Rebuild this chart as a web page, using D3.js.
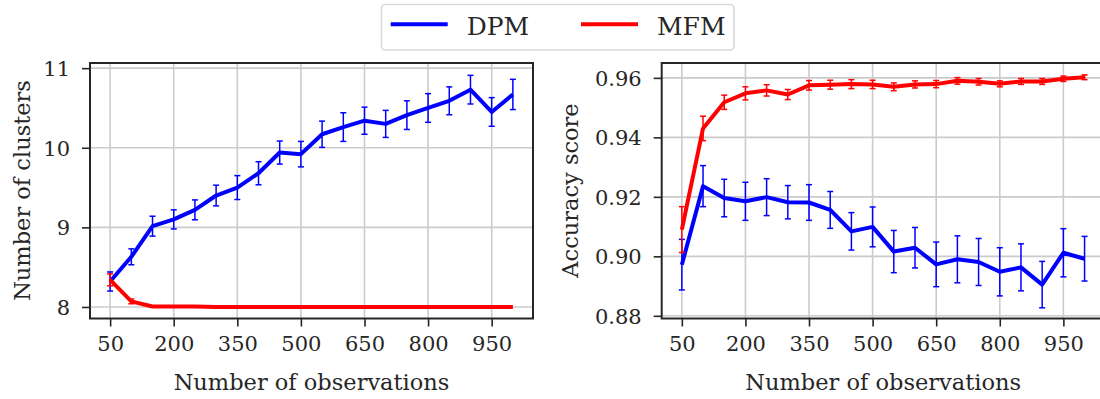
<!DOCTYPE html>
<html>
<head>
<meta charset="utf-8">
<script src="https://cdn.jsdelivr.net/npm/d3@7"></script>
<style>
  body { margin: 0; background: #fff; }
  svg text { font-family: "DejaVu Serif", serif; fill: #262626; }
</style>
</head>
<body>
<div id="plot"></div>
<script>
// chart size
const width = 1100;
const height = 399;

// number of observations (x categories)
const nObs = [50, 100, 150, 200, 250, 300, 350, 400, 450, 500,
              550, 600, 650, 700, 750, 800, 850, 900, 950, 1000];
const xTicks = [50, 200, 350, 500, 650, 800, 950];

// left panel: number of clusters
const dpmClusters = [8.32, 8.63, 9.015, 9.10, 9.22, 9.40, 9.50, 9.68, 9.94, 9.92,
                     10.17, 10.26, 10.34, 10.30, 10.41, 10.50, 10.59, 10.73, 10.45, 10.67];
const dpmClustersErr = [0.12, 0.10, 0.125, 0.12, 0.125, 0.13, 0.15, 0.145, 0.145, 0.16,
                        0.165, 0.18, 0.17, 0.17, 0.18, 0.18, 0.175, 0.18, 0.18, 0.19];
const mfmClusters = [8.34, 8.07, 8.005, 8.005, 8.005, 8.0, 8.0, 8.0, 8.0, 8.0,
                     8.0, 8.0, 8.0, 8.0, 8.0, 8.0, 8.0, 8.0, 8.0, 8.0];
const mfmClustersErr = [0.075, 0.03, 0.005, 0, 0, 0, 0, 0, 0, 0,
                        0, 0, 0, 0, 0, 0, 0, 0, 0, 0];
const clusterTicks = [8, 9, 10, 11];

// right panel: accuracy score
const dpmAcc = [0.8972, 0.9236, 0.9196, 0.9185, 0.9199, 0.9182, 0.9181, 0.9156, 0.9084, 0.9099,
                0.9016, 0.9029, 0.8973, 0.8990, 0.8981, 0.8948, 0.8963, 0.8905, 0.9012, 0.8992];
const dpmAccErr = [0.0085, 0.0069, 0.0063, 0.0064, 0.0062, 0.0056, 0.0060, 0.0062, 0.0063, 0.0067,
                   0.0071, 0.0068, 0.0075, 0.0079, 0.0079, 0.0081, 0.0079, 0.0078, 0.0081, 0.0075];
const mfmAcc = [0.9090, 0.9430, 0.9518, 0.9548, 0.9558, 0.9544, 0.9575, 0.9577, 0.9579, 0.9578,
                0.9570, 0.9578, 0.9579, 0.9590, 0.9587, 0.9580, 0.9588, 0.9588, 0.9597, 0.9602];
const mfmAccErr = [0.0077, 0.0041, 0.0024, 0.0022, 0.0019, 0.0017, 0.0016, 0.0015, 0.0015, 0.0014,
                   0.0013, 0.0012, 0.0012, 0.0011, 0.0011, 0.0010, 0.0010, 0.0010, 0.0009, 0.0008];
const accTicks = [0.88, 0.90, 0.92, 0.94, 0.96];

// series names and colours
const seriesNames = ["DPM", "MFM"];
const seriesColor = { "DPM": "#0000ff", "MFM": "#ff0000" };

const svg = d3.select("div#plot")
    .append("svg")
    .attr("width", width)
    .attr("height", height);

function drawPanel(opts) {
    const x = d3.scaleLinear().domain([2.5, 1047.5]).range([opts.left, opts.left + 443]);
    const y = d3.scaleLinear().domain(opts.yDomain).range([318.5, 63]);
    const g = svg.append("g");

    // grid
    g.selectAll("line.gx").data(xTicks).enter().append("line")
        .attr("x1", d => x(d)).attr("x2", d => x(d))
        .attr("y1", 63).attr("y2", 318.5)
        .attr("stroke", "#cbcbcb").attr("stroke-width", 1.6);
    g.selectAll("line.gy").data(opts.yTicks).enter().append("line")
        .attr("x1", opts.left).attr("x2", opts.left + 443)
        .attr("y1", d => y(d)).attr("y2", d => y(d))
        .attr("stroke", "#cbcbcb").attr("stroke-width", 1.6);

    // series: line + error bars
    opts.series.forEach(function(s) {
        const col = seriesColor[s.name];
        const pts = nObs.map((n, i) => ({ n: n, v: s.values[i], e: s.errors[i] }));
        const eb = g.append("g");
        pts.filter(d => d.e > 0).forEach(function(d) {
            eb.append("line")
                .attr("x1", x(d.n)).attr("x2", x(d.n))
                .attr("y1", y(d.v - d.e)).attr("y2", y(d.v + d.e))
                .attr("stroke", col).attr("stroke-width", 1.5);
            [d.v - d.e, d.v + d.e].forEach(function(v) {
                eb.append("line")
                    .attr("x1", x(d.n) - 3).attr("x2", x(d.n) + 3)
                    .attr("y1", y(v)).attr("y2", y(v))
                    .attr("stroke", col).attr("stroke-width", 1.5);
            });
        });
        g.append("path")
            .datum(pts)
            .attr("fill", "none")
            .attr("stroke", col)
            .attr("stroke-width", 4)
            .attr("stroke-linejoin", "round")
            .attr("d", d3.line().x(d => x(d.n)).y(d => y(d.v)));
    });

    // axes
    const xAxis = g.append("g")
        .attr("transform", "translate(0,318.5)")
        .call(d3.axisBottom(x).tickValues(xTicks).tickSizeOuter(0).tickSize(8).tickPadding(10));
    const yAxis = g.append("g")
        .attr("transform", "translate(" + opts.left + ",0)")
        .call(d3.axisLeft(y).tickValues(opts.yTicks).tickFormat(opts.fmt)
            .tickSizeOuter(0).tickSize(8).tickPadding(12));
    [xAxis, yAxis].forEach(function(a) {
        a.select(".domain").remove();
        a.selectAll(".tick line").attr("stroke", "#262626").attr("stroke-width", 1.6);
        a.selectAll(".tick text").style("font-size", "21px").attr("fill", "#262626");
    });
    yAxis.selectAll(".tick text").attr("dy", "0.36em");

    // frame
    g.append("rect")
        .attr("x", opts.left).attr("y", 63)
        .attr("width", 443).attr("height", 255.5)
        .attr("fill", "none").attr("stroke", "#262626").attr("stroke-width", 2);

    // labels
    g.append("text")
        .attr("x", opts.left + 221.5).attr("y", 390)
        .attr("text-anchor", "middle")
        .style("font-size", "22.5px")
        .text("Number of observations");
    g.append("text")
        .attr("transform", "translate(" + opts.labelX + ",190.5) rotate(-90)")
        .attr("text-anchor", "middle")
        .style("font-size", "22.5px")
        .text(opts.yLabel);
}

drawPanel({
    left: 90,
    yDomain: [7.855, 11.065],
    yTicks: clusterTicks,
    fmt: d3.format("d"),
    yLabel: "Number of clusters",
    labelX: 30,
    series: [
        { name: "DPM", values: dpmClusters, errors: dpmClustersErr },
        { name: "MFM", values: mfmClusters, errors: mfmClustersErr }
    ]
});

drawPanel({
    left: 661.7,
    yDomain: [0.8791, 0.965],
    yTicks: accTicks,
    fmt: d3.format(".2f"),
    yLabel: "Accuracy score",
    labelX: 578,
    series: [
        { name: "DPM", values: dpmAcc, errors: dpmAccErr },
        { name: "MFM", values: mfmAcc, errors: mfmAccErr }
    ]
});

// legend
const legend = svg.append("g");
legend.append("rect")
    .attr("x", 381.5).attr("y", 4.5)
    .attr("width", 352.5).attr("height", 45.5)
    .attr("rx", 4)
    .attr("fill", "#fff").attr("stroke", "#d9d9d9").attr("stroke-width", 1.6);
const legendX = { "DPM": 390.7, "MFM": 581 };
seriesNames.forEach(function(name) {
    legend.append("line")
        .attr("x1", legendX[name]).attr("x2", legendX[name] + 57)
        .attr("y1", 24.3).attr("y2", 24.3)
        .attr("stroke", seriesColor[name]).attr("stroke-width", 4);
    legend.append("text")
        .attr("x", legendX[name] + 76).attr("y", 34.5)
        .style("font-size", "25px")
        .text(name);
});
</script>
</body>
</html>
